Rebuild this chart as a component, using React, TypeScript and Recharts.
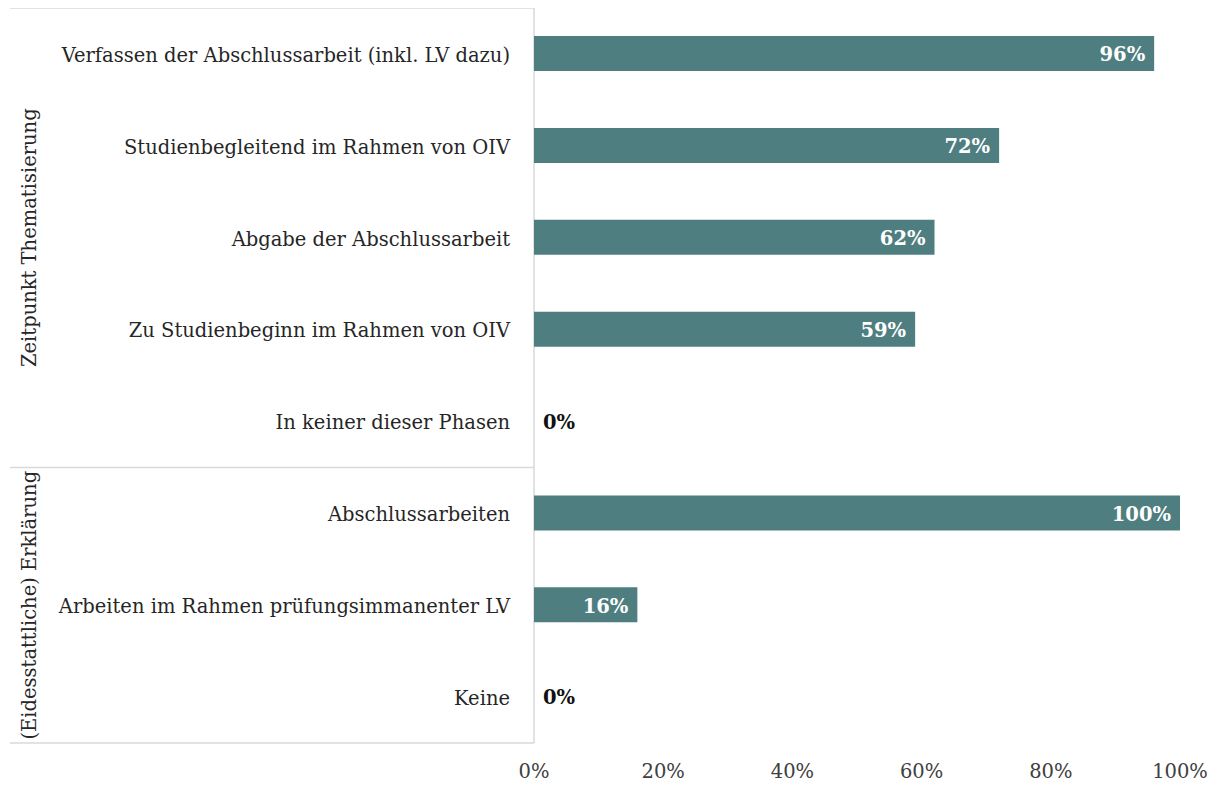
import React from "react"
import { Bar, BarChart, XAxis, YAxis, LabelList, Cell, Customized, usePlotArea } from "recharts"

// Kategorien (oben nach unten) und Anteile in %
const categories = [
  "Verfassen der Abschlussarbeit (inkl. LV dazu)",
  "Studienbegleitend im Rahmen von OIV",
  "Abgabe der Abschlussarbeit",
  "Zu Studienbeginn im Rahmen von OIV",
  "In keiner dieser Phasen",
  "Abschlussarbeiten",
  "Arbeiten im Rahmen prüfungsimmanenter LV",
  "Keine",
]
const shares = [96, 72, 62, 59, 0, 100, 16, 0]

// Gruppen: Titel und Anzahl Kategorien
const groupNames = ["Zeitpunkt Thematisierung", "(Eidesstattliche) Erklärung"]
const groupSizes = [5, 3]

const xTicks = [0, 20, 40, 60, 80, 100]

const data = categories.map((name, i) => ({ name, value: shares[i] }))

const FONT = "'DejaVu Serif', serif"
const FS = 19.5
const BAR = "#4f7e80"
const GRID = "#d9d9d9"

const CategoryTick = (props: any) => {
  const { x, y, payload } = props
  return (
    <text x={x - 16} y={y + 1} dy="0.35em" textAnchor="end" fontFamily={FONT} fontSize={FS} fill="#262626">
      {payload.value}
    </text>
  )
}

const ValueLabel = (props: any) => {
  const { x, y, width, height, value } = props
  const cy = y + height / 2 + 1
  if (!value) {
    return (
      <text x={x + 9} y={cy} dy="0.35em" textAnchor="start" fontFamily={FONT} fontSize={FS} fontWeight="bold" fill="#111">
        {value}%
      </text>
    )
  }
  return (
    <text x={x + width - 9} y={cy} dy="0.35em" textAnchor="end" fontFamily={FONT} fontSize={FS} fontWeight="bold" fill="#fff">
      {value}%
    </text>
  )
}

// Gruppenrahmen und gedrehte Gruppentitel links
const GroupFrame = () => {
  const area = usePlotArea()
  if (!area) return null
  const band = area.height / categories.length
  const left = 2
  let start = 0
  const items: React.ReactNode[] = []
  groupSizes.forEach((size, gi) => {
    const y0 = area.y + start * band
    const y1 = y0 + size * band
    items.push(<line key={`t${gi}`} x1={left} x2={area.x} y1={y0} y2={y0} stroke={GRID} strokeWidth={1.5} />)
    const cx = 21
    const cy = (y0 + y1) / 2
    items.push(
      <text
        key={`g${gi}`}
        x={cx}
        y={cy}
        dy="0.35em"
        textAnchor="middle"
        transform={`rotate(-90 ${cx} ${cy})`}
        fontFamily={FONT}
        fontSize={FS}
        fill="#262626"
      >
        {groupNames[gi]}
      </text>
    )
    start += size
  })
  const yEnd = area.y + area.height
  items.push(<line key="b" x1={left} x2={area.x} y1={yEnd} y2={yEnd} stroke={GRID} strokeWidth={1.5} />)
  items.push(<line key="v" x1={area.x} x2={area.x} y1={area.y} y2={yEnd} stroke={GRID} strokeWidth={1.5} />)
  return <g>{items}</g>
}

export default function App() {
  return (
    <BarChart
      width={1201}
      height={777}
      data={data}
      layout="vertical"
      margin={{ top: 0, right: 29, left: 0, bottom: 0 }}
      barCategoryGap={0}
    >
      <XAxis
        type="number"
        domain={[0, 100]}
        ticks={xTicks}
        tickFormatter={(v) => `${v}%`}
        axisLine={false}
        tickLine={false}
        tickMargin={15}
        height={42}
        interval={0}
        tick={{ fontFamily: FONT, fontSize: FS, fill: "#404040" }}
      />
      <YAxis
        type="category"
        dataKey="name"
        width={526}
        axisLine={false}
        tickLine={false}
        interval={0}
        tick={<CategoryTick />}
      />
      <Bar dataKey="value" fill={BAR} barSize={35} minPointSize={1} isAnimationActive={false}>
        {data.map((d, i) => (
          <Cell key={`c${i}`} fill={d.value ? BAR : "transparent"} />
        ))}
        <LabelList dataKey="value" content={<ValueLabel />} />
      </Bar>
      <Customized component={<GroupFrame />} />
    </BarChart>
  )
}
